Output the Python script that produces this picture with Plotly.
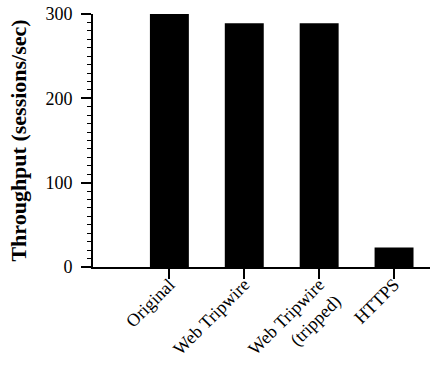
import plotly.graph_objects as go

categories = ["Original", "Web Tripwire", "Web Tripwire<br>(tripped)", "HTTPS"]
throughput = [300, 289, 289, 23]
y_ticks = [0, 100, 200, 300]

fig = go.Figure()
fig.add_trace(go.Bar(
    x=list(range(len(categories))),
    y=throughput,
    width=0.52,
    marker=dict(color="black", line=dict(width=0)),
))

font = "Liberation Serif, Times New Roman, serif"
fig.update_layout(
    width=430, height=373,
    margin=dict(l=93, r=0, t=14, b=106, autoexpand=False),
    plot_bgcolor="white", paper_bgcolor="white",
    showlegend=False,
    font=dict(family=font, size=18, color="black"),
    xaxis=dict(
        range=[-1.02, 3.48],
        tickmode="array",
        tickvals=list(range(len(categories))),
        ticktext=categories,
        tickangle=-45,
        ticks="outside", ticklen=10, tickwidth=1.5, tickcolor="black",
        showline=True, linecolor="black", linewidth=2,
        showgrid=False, zeroline=False,
        tickfont=dict(size=18),
        ticklabelstandoff=-12,
        automargin=False,
    ),
    yaxis=dict(
        range=[0, 300],
        tickmode="array", tickvals=y_ticks,
        ticks="outside", ticklen=10, tickwidth=1.5, tickcolor="black",
        showline=True, linecolor="black", linewidth=2,
        showgrid=False, zeroline=False,
        ticklabelstandoff=5,
        minor=dict(dtick=10, ticks="outside", ticklen=4, tickwidth=1.2, tickcolor="black", showgrid=False),
        title=dict(text="<b>Throughput (sessions/sec)</b>", font=dict(size=22), standoff=13),
        automargin=False,
    ),
)
fig.write_html("out.html", config={"displayModeBar": False},
               post_script="document.body.style.margin='0';")
